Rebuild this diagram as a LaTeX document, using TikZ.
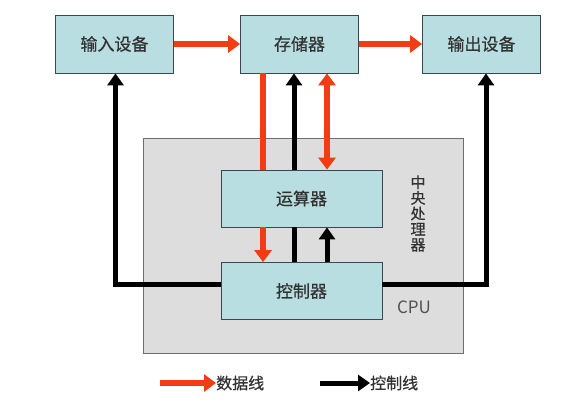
\documentclass[tikz,border=0pt]{standalone}
\usepackage{fontspec}
\usepackage{xcolor}
\usetikzlibrary{arrows.meta}
\newfontfamily\cjk[FakeBold=0.6]{Noto Sans CJK SC}
\definecolor{boxfill}{RGB}{184,222,225}
\definecolor{boxline}{RGB}{60,70,80}
\definecolor{cpufill}{RGB}{221,221,221}
\definecolor{cpuline}{RGB}{110,110,110}
\definecolor{datared}{RGB}{242,60,20}
\definecolor{txtgray}{RGB}{50,50,50}

\begin{document}
\begin{tikzpicture}[x=1pt,y=-1pt,
  unit/.style={draw=boxline,fill=boxfill,line width=0.8pt,inner sep=0pt,
    font=\cjk\fontsize{17}{19}\selectfont,text=txtgray},
  topunit/.style={unit,minimum width=118pt,minimum height=58pt},
  cpuunit/.style={unit,minimum width=161pt,minimum height=57pt},
  dataline/.style={datared,line width=5.5pt,-{Triangle[length=12pt,width=17pt]}},
  ctrlline/.style={black,line width=5pt,-{Triangle[length=12pt,width=16pt]}},
  legtxt/.style={anchor=west,inner sep=0pt,font=\cjk\fontsize{16}{18}\selectfont,text=txtgray}]
\useasboundingbox (0,0) rectangle (586,414);
% CPU frame
\node[draw=cpuline,fill=cpufill,line width=0.8pt,minimum width=320pt,minimum height=215pt] (cpu) at (303,245.5) {};
\node[inner sep=0pt,align=center,font=\cjk\fontsize{15}{15.6}\selectfont,text=txtgray] (cputxt) at (418,213.5) {中\\央\\处\\理\\器};
\node[inner sep=0pt,font=\fontspec{Noto Sans CJK SC}\fontsize{17}{19}\selectfont,text=txtgray!85] (cpulbl) at (414,307) {CPU};
% units
\node[topunit] (input) at (114.5,44) {输入设备};
\node[topunit] (mem) at (299.5,44) {存储器};
\node[topunit] (output) at (481.5,44) {输出设备};
\node[cpuunit] (alu) at (301.5,198.5) {运算器};
\node[cpuunit] (cu) at (301.5,291) {控制器};
\coordinate (dx1) at (263,0);
\coordinate (dx2) at (294,0);
\coordinate (dx3) at (327,0);
\coordinate (lx) at (115.5,284);
\coordinate (rx) at (486,284);
% data lines
\draw[dataline] (input.east) -- (mem.west);
\draw[dataline] (mem.east) -- (output.west);
\draw[dataline,-] (mem.south -| dx1) -- (alu.north -| dx1);
\draw[dataline] (alu.south -| dx1) -- (cu.north -| dx1);
\draw[dataline,{Triangle[length=12pt,width=17pt]}-{Triangle[length=12pt,width=17pt]}] (mem.south -| dx3) -- (alu.north -| dx3);
% control lines
\draw[ctrlline,-] (cu.north -| dx2) -- (alu.south -| dx2);
\draw[ctrlline] (alu.north -| dx2) -- (mem.south -| dx2);
\draw[ctrlline] (cu.north -| dx3) -- (alu.south -| dx3);
\draw[ctrlline] (cu.west |- lx) -- (lx) -- (input.south -| lx);
\draw[ctrlline] (cu.east |- rx) -- (rx) -- (output.south -| rx);
% legend
\coordinate (ld) at (160,383);
\coordinate (lc) at (320,383);
\node[legtxt] (legd) at (216,383) {数据线};
\node[legtxt] (legc) at (370,383) {控制线};
\draw[dataline] (ld) -- (legd.west);
\draw[ctrlline] (lc) -- (legc.west);
\end{tikzpicture}
\end{document}
